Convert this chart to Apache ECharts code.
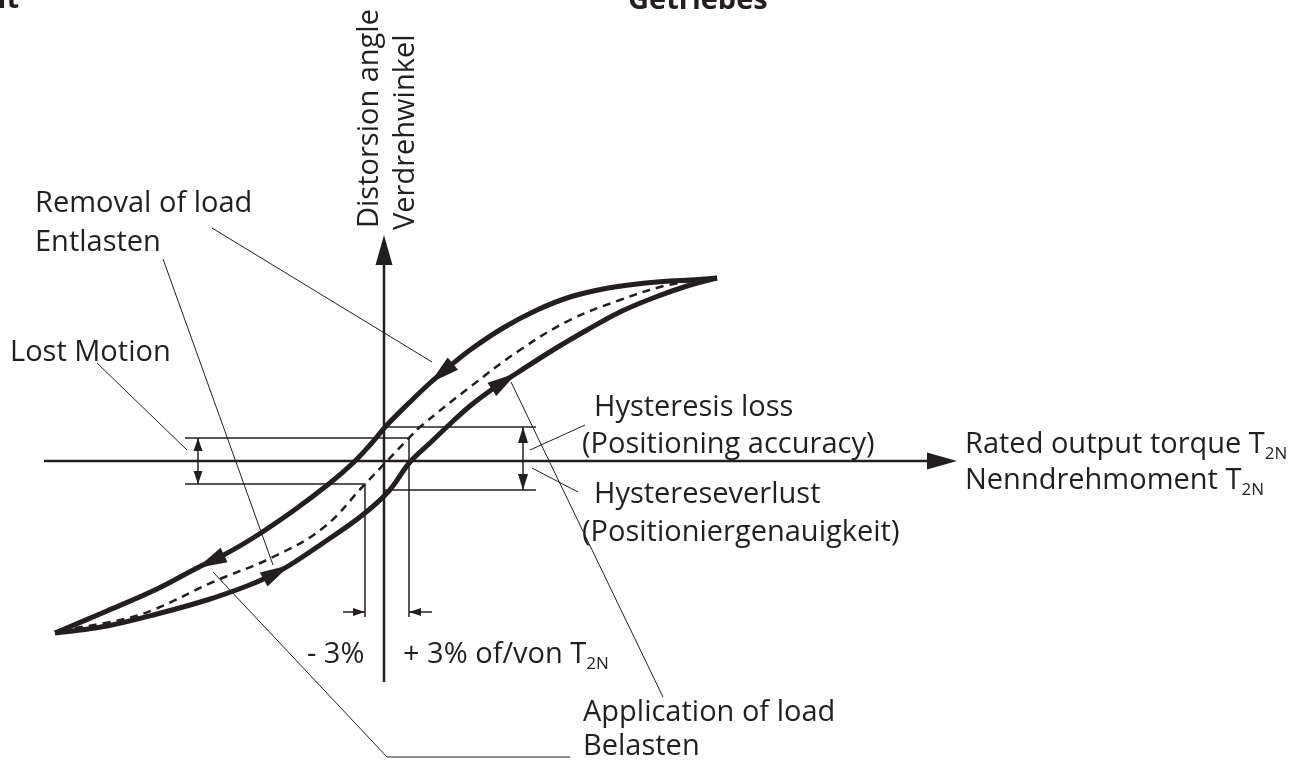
<!DOCTYPE html>
<html>
<head>
<meta charset="utf-8">
<script src="https://cdn.jsdelivr.net/npm/echarts@6/dist/echarts.min.js"></script>
<style>
html, body { margin: 0; padding: 0; background: #fff; }
#chart { width: 1303px; height: 760px; }
</style>
</head>
<body>
<div id="chart"></div>
<script>
// drawing units: origin where the two axes cross, y pointing up
var upperCurve = [[333,183],[306,181],[286,180],[253,177],[219,172],[186,164],[153,151],[119,133],[86,111],[66,95],[46,78],[26,59],[3,36],[-14,16],[-31,-2],[-54,-22],[-91,-50],[-131,-77],[-164,-96],[-187,-107],[-227,-128],[-277,-150],[-329,-172]];
var lowerCurve = [[-329,-172],[-277,-165],[-227,-153],[-177,-139],[-137,-125],[-114,-115],[-94,-104],[-61,-82],[-24,-56],[4,-31],[26,-1],[46,18],[66,37],[86,55],[110,73],[133,88],[169,111],[203,131],[236,149],[269,163],[303,175],[333,183]];
var midCurve = [[-309,-167],[-264,-159],[-231,-149],[-171,-121],[-111,-96],[-61,-67],[-19,-23],[3,0],[25,23],[36,34],[86,74],[136,111],[186,141],[236,161],[276,174],[306,180]];
var upperArrowTips = [10, 19];
var lowerArrowTips = [6, 15];

var xAxisEnds = [[-340,0],[573,0]];
var yAxisEnds = [[0,-221],[0,226]];

var lostMotionTop = [[-199,23],[25,23],[25,-156]];
var lostMotionBottom = [[-199,-23],[-19,-23],[-19,-156]];
var lostMotionSpan = [[-186,23],[-186,-23]];
var hystTop = [[0,34],[152,34]];
var hystBottom = [[0,-29],[152,-29]];
var hystSpan = [[139,34],[139,-29]];
var tolMinus = [[-41,-151],[-19,-151]];
var tolPlus = [[48,-151],[25,-151]];

var leaders = [
  [[-172,233],[48,99]],
  [[-221,202],[-111,-104]],
  [[-287,98],[-197,11]],
  [[-171,-111],[3,-296],[186,-296]],
  [[127,79],[279,-236]],
  [[146,11],[201,36]],
  [[148,-7],[194,-31]]
];

var INK = '#231f20';
var FONT = 'Open Sans';
var FS = 29;

function line(points, width, dash) {
  return {
    type: 'line', data: points, showSymbol: false, silent: true, clip: false,
    lineStyle: { color: INK, width: width, type: dash || 'solid', join: 'round' },
    z: 2
  };
}

function arrowHead(tip, from, len, wid) {
  var dx = tip[0] - from[0], dy = tip[1] - from[1];
  var d = Math.sqrt(dx * dx + dy * dy);
  var ux = dx / d, uy = dy / d;
  var ang = Math.atan2(dy, dx) * 180 / Math.PI;
  return {
    value: [tip[0] - ux * len / 2, tip[1] - uy * len / 2],
    symbolSize: [wid, len],
    symbolRotate: ang - 90
  };
}

var heads = [];
upperArrowTips.forEach(function (i) { heads.push(arrowHead(upperCurve[i], upperCurve[i - 1], 30, 16)); });
lowerArrowTips.forEach(function (i) { heads.push(arrowHead(lowerCurve[i], lowerCurve[i - 1], 30, 16)); });
heads.push(arrowHead(xAxisEnds[1], xAxisEnds[0], 30, 17));
heads.push(arrowHead(yAxisEnds[1], yAxisEnds[0], 30, 17));
heads.push(arrowHead(lostMotionSpan[0], lostMotionSpan[1], 13, 9));
heads.push(arrowHead(lostMotionSpan[1], lostMotionSpan[0], 13, 9));
heads.push(arrowHead(hystSpan[0], hystSpan[1], 16, 10));
heads.push(arrowHead(hystSpan[1], hystSpan[0], 16, 10));
heads.push(arrowHead(tolMinus[1], tolMinus[0], 12, 8));
heads.push(arrowHead(tolPlus[1], tolPlus[0], 12, 8));

function shorten(seg, by) {
  var a = seg[0], b = seg[1];
  var dx = b[0] - a[0], dy = b[1] - a[1];
  var d = Math.sqrt(dx * dx + dy * dy);
  return [a, [b[0] - dx / d * by, b[1] - dy / d * by]];
}

var series = [
  line(upperCurve, 5),
  line(lowerCurve, 5),
  line(midCurve, 2.5, [8, 6]),
  line(shorten(xAxisEnds, 25), 2.5),
  line(shorten(yAxisEnds, 25), 2.5),
  line(lostMotionTop, 1.5),
  line(lostMotionBottom, 1.5),
  line(lostMotionSpan, 1.5),
  line(hystTop, 1.5),
  line(hystBottom, 1.5),
  line(hystSpan, 1.5),
  line(tolMinus, 1.5),
  line(tolPlus, 1.5)
];
series[0].smooth = 0.35;
series[1].smooth = 0.35;
series[2].smooth = 0.4;
leaders.forEach(function (p) { series.push(line(p, 1)); });
series.push({
  type: 'scatter', symbol: 'triangle', data: heads, silent: true, clip: false,
  itemStyle: { color: INK, opacity: 1 }, z: 3
});

function txt(x, baseline, text, opts) {
  opts = opts || {};
  return {
    type: 'text', x: x, y: baseline - 26, rotation: opts.rotation || 0,
    silent: true,
    style: {
      text: text, fill: INK, fontFamily: FONT, fontSize: FS, lineHeight: 36,
      fontWeight: opts.bold ? 'bold' : 'normal',
      align: opts.align || 'left', verticalAlign: 'top',
      textAlign: opts.align || 'left', textVerticalAlign: 'top',
      rich: { s: { fontFamily: FONT, fontSize: 17, lineHeight: 16, verticalAlign: 'bottom', fill: INK } }
    }
  };
}

var texts = [
  txt(19, 8, 'it', { bold: true, align: 'right' }),
  txt(628, 9, 'Getriebes', { bold: true }),
  txt(35, 212, 'Removal of load'),
  txt(35, 251, 'Entlasten'),
  txt(10, 361, 'Lost Motion'),
  txt(594, 416, 'Hysteresis loss'),
  txt(582, 453, '(Positioning accuracy)'),
  txt(594, 503, 'Hystereseverlust'),
  txt(582, 541, '(Positioniergenauigkeit)'),
  txt(965, 453, 'Rated output torque T{s|2N}'),
  txt(965, 489, 'Nenndrehmoment T{s|2N}'),
  txt(307, 663, '- 3%'),
  txt(403, 663, '+ 3% of/von T{s|2N}'),
  txt(583, 721, 'Application of load'),
  txt(583, 755, 'Belasten')
];
var rot1 = txt(0, 0, 'Distorsion angle', { rotation: Math.PI / 2 });
rot1.x = 378 - 26; rot1.y = 228;
var rot2 = txt(0, 0, 'Verdrehwinkel', { rotation: Math.PI / 2 });
rot2.x = 414 - 26; rot2.y = 230;
texts.push(rot1, rot2);

var chart = echarts.init(document.getElementById('chart'));
chart.setOption({
  animation: false,
  backgroundColor: '#fff',
  grid: { left: 0, right: 0, top: 0, bottom: 0 },
  xAxis: { type: 'value', min: -384, max: 919, show: false },
  yAxis: { type: 'value', min: -299, max: 461, show: false },
  series: series,
  graphic: { elements: texts }
});
</script>
</body>
</html>
